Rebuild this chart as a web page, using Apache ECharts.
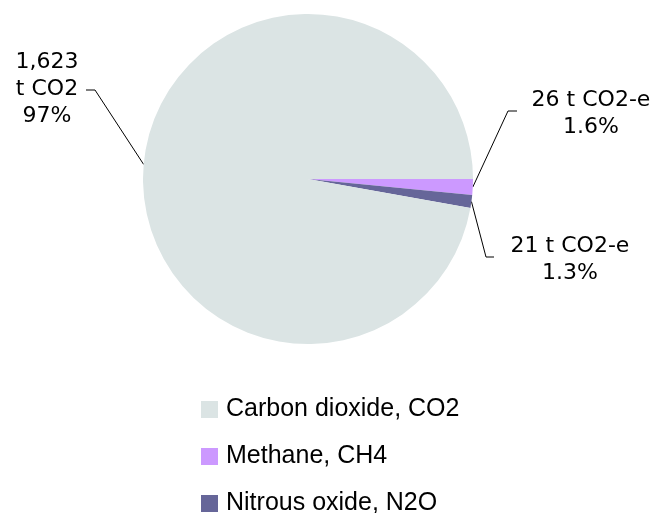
<!DOCTYPE html>
<html>
<head>
<meta charset="utf-8">
<script src="https://cdn.jsdelivr.net/npm/echarts@6/dist/echarts.min.js"></script>
<style>
html, body { margin: 0; padding: 0; background: #fff; }
#pie { width: 658px; height: 513px; }
</style>
</head>
<body>
<div id="pie"></div>
<script>
// gases, in legend order
var gasNames = ['Carbon dioxide, CO2', 'Methane, CH4', 'Nitrous oxide, N2O'];
var emissions = [1623, 26, 21];
var unitLabels = ['t CO2', 't CO2-e', 't CO2-e'];
var gasColors = ['#dbe4e4', '#cc99ff', '#666699'];
// slices are drawn clockwise from 3 o'clock in this order
var drawOrder = [1, 2, 0];

// where each label sits and where its leader line bends
var labelSpots = {
    0: { x: 47, y: 89, bend: [[95, 90], [86, 90]] },
    1: { x: 591, y: 114, bend: [[508, 111], [517, 111]] },
    2: { x: 570, y: 260, bend: [[486, 257], [494, 257]] }
};

var pieData = [];
for (var i = 0; i < drawOrder.length; i++) {
    var g = drawOrder[i];
    pieData.push({ name: gasNames[g], value: emissions[g], gas: g, itemStyle: { color: gasColors[g] } });
}

// one legend per row so the column never wraps
var legends = [];
for (var j = 0; j < gasNames.length; j++) {
    legends.push({
        orient: 'vertical',
        left: 201,
        top: 397 + j * 47,
        padding: 0,
        data: [gasNames[j]],
        icon: 'rect',
        itemWidth: 17,
        itemHeight: 17,
        selectedMode: false,
        textStyle: {
            fontFamily: 'Liberation Sans, Arial, sans-serif',
            fontSize: 25,
            color: '#000',
            padding: [0, 0, 0, 3]
        }
    });
}

var myChart = echarts.init(document.getElementById('pie'));

var option = {
    animation: false,
    legend: legends,
    series: [{
        type: 'pie',
        center: [308, 179],
        radius: 165,
        startAngle: 0,
        clockwise: true,
        silent: true,
        itemStyle: { borderWidth: 0 },
        label: {
            show: true,
            position: 'outside',
            fontFamily: 'DejaVu Sans, Verdana, sans-serif',
            fontSize: 22,
            lineHeight: 27,
            color: '#000',
            align: 'center',
            formatter: function (p) {
                var g = p.data.gas;
                var pct = p.percent >= 10 ? p.percent.toFixed(0) : p.percent.toFixed(1);
                var sep = g === 0 ? '\n' : ' ';
                return p.value.toLocaleString('en-US') + sep + unitLabels[g] + '\n' + pct + '%';
            }
        },
        labelLine: {
            show: true,
            length: 20,
            length2: 10,
            lineStyle: { color: '#000', width: 1 }
        },
        labelLayout: function (p) {
            var spot = labelSpots[pieData[p.dataIndex].gas];
            var pts = [p.labelLinePoints[0]].concat(spot.bend);
            return {
                x: spot.x,
                y: spot.y,
                align: 'center',
                verticalAlign: 'middle',
                labelLinePoints: pts
            };
        },
        data: pieData
    }]
};

myChart.setOption(option);
</script>
</body>
</html>
